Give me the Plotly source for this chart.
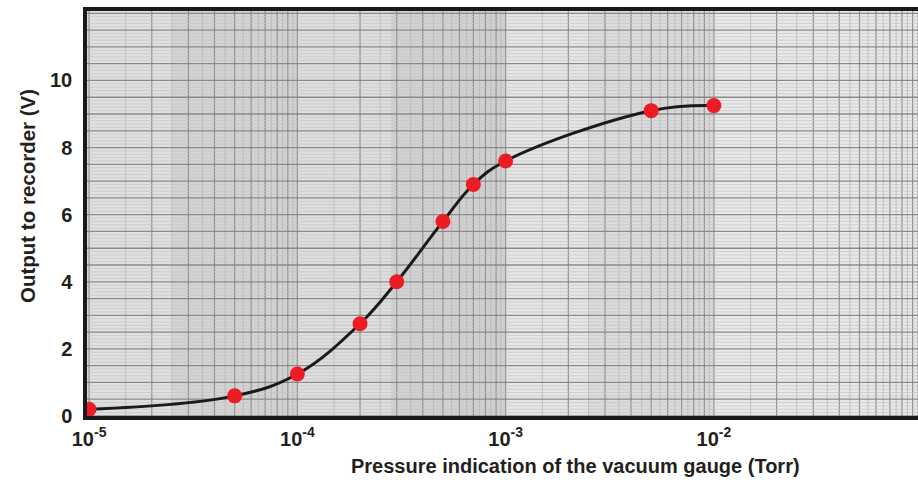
import plotly.graph_objects as go
import numpy as np

# Data
pressure_torr = [1e-5, 5e-5, 1e-4, 2e-4, 3e-4, 5e-4, 7e-4, 1e-3, 5e-3, 1e-2]
output_volts = [0.2, 0.6, 1.25, 2.75, 4.0, 5.8, 6.9, 7.6, 9.1, 9.25]

x_tickvals = [1e-5, 1e-4, 1e-3, 1e-2]
x_ticktext = ["<b>10<sup>-5</sup></b>", "<b>10<sup>-4</sup></b>", "<b>10<sup>-3</sup></b>", "<b>10<sup>-2</sup></b>"]
y_tickvals = [0, 2, 4, 6, 8, 10]

X_RANGE = [-5.01, -1.02]
Y_RANGE = [0, 12.07]

fig = go.Figure()

fig.add_trace(go.Scatter(
    x=pressure_torr, y=output_volts,
    mode="lines+markers",
    line=dict(color="#1a1a1a", width=3, shape="spline", smoothing=1.1),
    marker=dict(color="#ec1c24", size=15, line=dict(width=0)),
    showlegend=False,
))

shapes = []
# paper-tone bands (scanned graph paper look)
bands = [(-5.01, -4.6, "#e0e0e0"), (-4.6, -4.0, "#d4d4d4"), (-4.0, -3.55, "#dedede"),
         (-3.55, -3.0, "#d2d2d2"), (-3.0, -2.6, "#e6e6e6"), (-2.6, -2.0, "#dcdcdc"),
         (-2.0, -1.02, "#e9e9e9")]
for x0, x1, c in bands:
    shapes.append(dict(type="rect", xref="x", yref="paper", x0=10**x0, x1=10**x1,
                       y0=0, y1=1, fillcolor=c, line=dict(width=0), layer="below"))

# vertical log-paper grid
for dec in range(-6, -1):
    for m in np.arange(1, 10, 0.5):
        xv = m * 10.0**dec
        if 10**X_RANGE[0] <= xv <= 10**X_RANGE[1]:
            major = float(m).is_integer()
            shapes.append(dict(type="line", xref="x", yref="paper", x0=xv, x1=xv, y0=0, y1=1,
                               line=dict(color="#8c8c8c" if major else "#b4b4b4",
                                         width=1.2 if major else 0.8),
                               layer="below"))
# horizontal grid
for i in range(0, 121):
    yv = i * 0.1
    major = (i % 5 == 0)
    shapes.append(dict(type="line", xref="paper", yref="y", x0=0, x1=1, y0=yv, y1=yv,
                       line=dict(color="#8a8a8a" if major else "#c4c4c4",
                                 width=1.3 if major else 0.7),
                       layer="below"))

fig.update_layout(
    width=918, height=482,
    margin=dict(l=87, r=0, t=11, b=66),
    paper_bgcolor="white",
    plot_bgcolor="#e2e2e2",
    shapes=shapes,
    font=dict(family="Liberation Sans, Arial, sans-serif", color="#231f20"),
    annotations=[
        dict(text="<b>Pressure indication of the vacuum gauge (Torr)</b>", xref="paper", yref="paper",
             x=(575 - 87) / 831, y=-50 / 405, xanchor="center", yanchor="middle",
             showarrow=False, font=dict(size=20, color="#231f20")),
        dict(text="<b>Output to recorder (V)</b>", xref="paper", yref="paper",
             x=-60 / 831, y=(416 - 196) / 405, xanchor="center", yanchor="middle", textangle=-90,
             showarrow=False, font=dict(size=20.5, color="#231f20")),
    ],
)

fig.update_xaxes(
    type="log", range=X_RANGE, tickvals=x_tickvals, ticktext=x_ticktext,
    showgrid=False, zeroline=False, automargin=False,
    showline=True, linecolor="#1a1a1a", linewidth=3.5, mirror=True,
    ticks="outside", ticklen=2, tickcolor="rgba(0,0,0,0)",
    tickfont=dict(size=20, family="Liberation Sans, Arial, sans-serif", color="#231f20"),
)
fig.update_yaxes(
    range=Y_RANGE, tickvals=y_tickvals, ticktext=[f"<b>{v}</b>" for v in y_tickvals],
    showgrid=False, zeroline=False, automargin=False,
    showline=True, linecolor="#1a1a1a", linewidth=3.5, mirror=False,
    ticks="outside", ticklen=7, tickcolor="rgba(0,0,0,0)",
    tickfont=dict(size=20, family="Liberation Sans, Arial, sans-serif", color="#231f20"),
)

fig.write_html("out.html", config={"displayModeBar": False},
               post_script="document.body.style.margin='0';document.body.style.overflow='hidden';")
